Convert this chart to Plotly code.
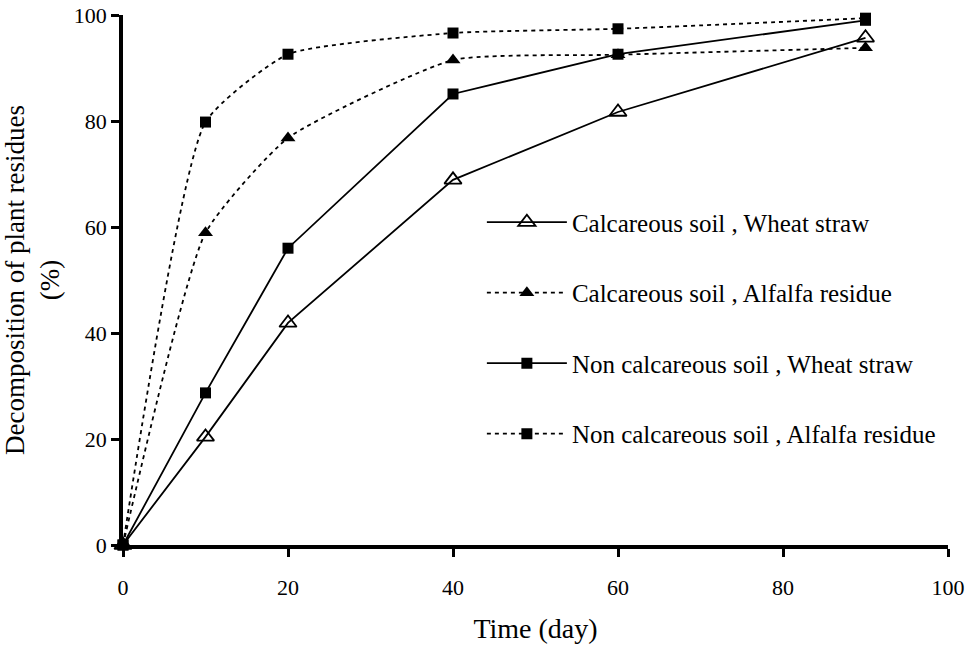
import plotly.graph_objects as go

days = [0, 10, 20, 40, 60, 90]
calc_wheat = [0, 20.4, 41.9, 68.9, 81.7, 95.7]
calc_alfalfa = [0, 58.9, 76.8, 91.5, 92.5, 93.8]
noncalc_wheat = [0, 28.7, 56.0, 85.1, 92.6, 99.0]
noncalc_alfalfa = [0, 79.8, 92.6, 96.6, 97.4, 99.4]

names = ["Calcareous soil , Wheat straw",
         "Calcareous soil , Alfalfa residue",
         "Non calcareous soil , Wheat straw",
         "Non calcareous soil , Alfalfa residue"]

FONT = "Liberation Serif"

fig = go.Figure()

specs = [
    (calc_wheat, names[0], "solid", "linear", dict(symbol="triangle-up-open", size=15, color="black", line=dict(width=1.8, color="black"))),
    (calc_alfalfa, names[1], "4px,4px", "spline", dict(symbol="triangle-up", size=13, color="black")),
    (noncalc_wheat, names[2], "solid", "linear", dict(symbol="square", size=11, color="black")),
    (noncalc_alfalfa, names[3], "4px,4px", "spline", dict(symbol="square", size=11, color="black")),
]

for i, (ys, nm, dash, shape, mk) in enumerate(specs):
    fig.add_trace(go.Scatter(
        x=days, y=ys, name=nm, mode="lines+markers",
        line=dict(color="black", width=1.8, dash=dash, shape=shape, smoothing=0.5),
        marker=mk, cliponaxis=False, legendgroup=f"g{i}",
    ))

fig.update_layout(
    width=967, height=645,
    margin=dict(l=123, r=19, t=15, b=100),
    paper_bgcolor="white", plot_bgcolor="white",
    font=dict(family=FONT, size=22, color="black"),
    showlegend=True,
    legend=dict(
        x=0.435, y=0.652, xanchor="left", yanchor="top",
        font=dict(family=FONT, size=25, color="black"),
        bgcolor="rgba(0,0,0,0)", itemwidth=80,
        tracegroupgap=35, traceorder="grouped",
    ),
    xaxis=dict(
        range=[0, 100], tickvals=[0, 20, 40, 60, 80, 100], automargin=False,
        showline=True, linewidth=3.5, linecolor="black",
        ticks="outside", ticklen=8, tickwidth=3, tickcolor="black",
        showgrid=False, zeroline=False, ticklabelstandoff=12,
        title=dict(text="Time (day)", font=dict(size=28), standoff=20),
    ),
    yaxis=dict(
        range=[0, 100], tickvals=[0, 20, 40, 60, 80, 100], automargin=False,
        showline=True, linewidth=3.5, linecolor="black",
        ticks="outside", ticklen=8, tickwidth=3, tickcolor="black",
        showgrid=False, zeroline=False,
        title=dict(text="Decomposition of plant residues<br>(%)", font=dict(size=27), standoff=8),
    ),
)

fig.write_html("out.html")
